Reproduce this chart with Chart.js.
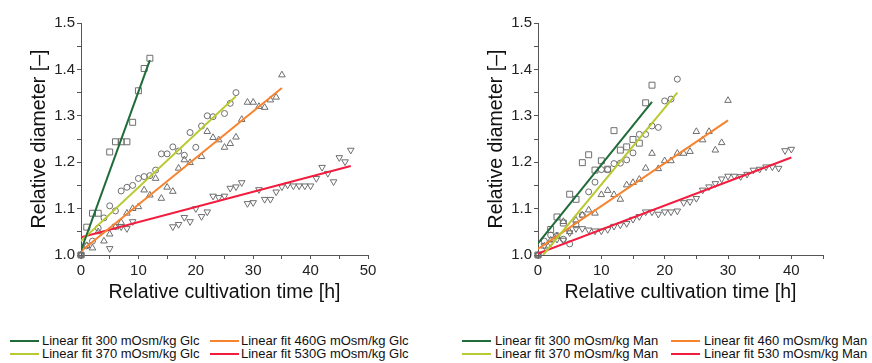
<!DOCTYPE html>
<html><head><meta charset="utf-8">
<script src="https://cdn.jsdelivr.net/npm/chart.js@4/dist/chart.umd.min.js"></script>
<style>
html,body{margin:0;padding:0;background:#fff;}
#wrap{position:relative;width:872px;height:363px;overflow:hidden;font-family:"Liberation Sans",Arial,sans-serif;background:#fff;}
canvas{position:absolute;top:0;}
.lt{position:absolute;font-size:13px;line-height:13px;color:#111;white-space:nowrap;}
.ll{position:absolute;height:2px;}
</style></head><body>
<div id="wrap">
<canvas id="c1" width="436" height="310" style="left:0"></canvas>
<canvas id="c2" width="436" height="310" style="left:436px"></canvas>
</div>
<script>
// ---------- Glucose (left panel) ----------
const glcT300 = [0,1,2,3,5,6,7,8,9,10,11,12];
const glcD300 = [1.0,1.06,1.09,1.09,1.222,1.244,1.244,1.244,1.286,1.354,1.402,1.424];
const glcT370 = [0,1,2,3,4,5,6,7,8,9,10,11,12,13,14,15,16,17,18,19,20,21,22,23,25,26,27];
const glcD370 = [1.0,1.02,1.03,1.058,1.08,1.106,1.095,1.138,1.146,1.15,1.165,1.169,1.171,1.183,1.218,1.218,1.233,1.224,1.215,1.264,1.232,1.278,1.30,1.298,1.305,1.327,1.35];
const glcT460 = [0,1,2,3,4,5,6,7,8,9,10,11,12,13,14,15,16,17,18,19,21,22,23,24,25,26,27,28,29,30,31,32,33,34,35];
const glcD460 = [1.0,1.02,1.015,1.05,1.03,1.045,1.06,1.07,1.09,1.10,1.104,1.14,1.129,1.165,1.122,1.146,1.137,1.187,1.205,1.199,1.212,1.266,1.253,1.248,1.232,1.24,1.254,1.292,1.329,1.329,1.32,1.318,1.334,1.34,1.388];
const glcT530 = [0,5,6,7,8,9,16,17,18,19,20,21,22,23,24,25,26,27,28,29,30,31,32,33,34,35,36,37,38,39,40,41,42,43,44,45,46,47];
const glcD530 = [1.0,1.014,1.062,1.061,1.057,1.072,1.061,1.066,1.081,1.072,1.10,1.083,1.093,1.127,1.124,1.127,1.144,1.147,1.156,1.111,1.113,1.141,1.12,1.12,1.136,1.147,1.151,1.149,1.149,1.149,1.149,1.165,1.189,1.176,1.158,1.21,1.201,1.226];
// linear fit end points
const glcFitT300 = [0,12],  glcFitD300 = [1.01,1.42];
const glcFitT370 = [0,27],  glcFitD370 = [1.03,1.342];
const glcFitT460 = [0,35],  glcFitD460 = [1.008,1.36];
const glcFitT530 = [0,47],  glcFitD530 = [1.038,1.192];
const glcLabels = ['Linear fit 300 mOsm/kg Glc','Linear fit 370 mOsm/kg Glc','Linear fit 460G mOsm/kg Glc','Linear fit 530G mOsm/kg Glc'];

// ---------- Mannitol (right panel) ----------
const manT300 = [0,2,3,4,5,6,7,8,9,10,11,12,13,14,15,16,17,18];
const manD300 = [1.0,1.055,1.082,1.069,1.131,1.12,1.199,1.216,1.183,1.203,1.185,1.268,1.226,1.233,1.249,1.241,1.328,1.366];
const manT370 = [0,1,2,3,4,5,6,7,8,9,10,11,12,13,14,15,16,17,18,19,20,21,22];
const manD370 = [1.0,1.03,1.043,1.042,1.034,1.024,1.065,1.086,1.136,1.157,1.184,1.184,1.197,1.198,1.205,1.22,1.26,1.26,1.278,1.275,1.332,1.336,1.379];
const manT460 = [0,1,2,3,4,5,6,7,8,9,10,11,12,13,14,15,16,17,18,19,20,21,22,23,24,25,26,27,28,29,30];
const manD460 = [1.0,1.019,1.032,1.04,1.072,1.05,1.075,1.086,1.097,1.09,1.13,1.139,1.13,1.12,1.151,1.156,1.163,1.187,1.219,1.186,1.203,1.203,1.219,1.219,1.223,1.266,1.248,1.266,1.226,1.242,1.333];
const manT530 = [0,1,2,3,4,5,6,7,8,9,10,11,12,13,14,15,16,17,18,19,20,21,22,23,24,25,26,27,28,29,30,31,32,33,34,35,36,37,38,39,40];
const manD530 = [1.0,1.02,1.025,1.034,1.032,1.048,1.057,1.057,1.054,1.052,1.052,1.055,1.062,1.065,1.068,1.077,1.083,1.093,1.093,1.088,1.093,1.093,1.095,1.113,1.115,1.122,1.14,1.147,1.154,1.164,1.17,1.17,1.169,1.174,1.183,1.185,1.19,1.19,1.187,1.225,1.228];
const manFitT300 = [0,18],   manFitD300 = [1.025,1.33];
const manFitT370 = [0.8,22], manFitD370 = [1.0,1.35];
const manFitT460 = [0,30],   manFitD460 = [1.013,1.29];
const manFitT530 = [0,40],   manFitD530 = [1.003,1.21];
const manLabels = ['Linear fit 300 mOsm/kg Man','Linear fit 370 mOsm/kg Man','Linear fit 460 mOsm/kg Man','Linear fit 530 mOsm/kg Man'];

// axis settings
const yTickValues = [1.0,1.1,1.2,1.3,1.4,1.5];
const xTickStep = 10;
const glcXMax = 50, manXMax = 45;

const FONT = '"Liberation Sans", Arial, sans-serif';
const fitColors = ['#1f6b3a','#b9c932','#f7832e','#f41c3e'];
const markerStyles = [
  {pointStyle:'rect', radius:4.2, rotation:0},
  {pointStyle:'circle', radius:3, rotation:0},
  {pointStyle:'triangle', radius:3.8, rotation:0},
  {pointStyle:'triangle', radius:3.8, rotation:180}
];
const markerColor = '#6e6e6e';

const zip = (a,b) => a.map((v,i)=>({x:v,y:b[i]}));

function buildDatasets(series, fits){
  const ds = [];
  fits.forEach((f,i)=>{
    ds.push({type:'line', data:zip(f[0],f[1]), borderColor:fitColors[i], borderWidth:2,
      pointRadius:0, fill:false, tension:0, order:0});
  });
  series.forEach((s,i)=>{
    const m = markerStyles[i];
    ds.push({type:'scatter', data:zip(s[0],s[1]), showLine:false,
      pointStyle:m.pointStyle, pointRadius:m.radius, pointRotation:m.rotation,
      pointBorderColor:markerColor, pointBackgroundColor:'rgba(0,0,0,0)', pointBorderWidth:1,
      clip:false, order:1});
  });
  return ds;
}

function isMajorY(v){ return yTickValues.some(t=>Math.abs(t-v)<1e-6); }

function makeOptions(xMax, leftPad, rightPad){
  return {
    responsive:false, animation:false, devicePixelRatio:1,
    layout:{padding:{left:leftPad,right:rightPad,top:23,bottom:0}},
    plugins:{legend:{display:false},tooltip:{enabled:false}},
    scales:{
      x:{type:'linear',min:0,max:xMax,
        afterFit(s){ s.height = 55; },
        border:{display:true,color:'#555',width:1},
        grid:{display:true,drawOnChartArea:false,drawTicks:true,tickLength:4,tickColor:'#555'},
        ticks:{stepSize:5,autoSkip:false,maxRotation:0,padding:3,color:'#222',
          font:{size:15,family:FONT},
          callback:(v)=> (Math.abs(v % xTickStep) < 1e-6 ? String(v) : '')},
        title:{display:true,text:'Relative cultivation time [h]',color:'#111',
          font:{size:19.5,family:FONT},padding:{top:0,bottom:6}}
      },
      y:{type:'linear',min:1.0,max:1.5,
        afterFit(s){ s.width = 81; },
        border:{display:true,color:'#555',width:1},
        grid:{display:true,drawOnChartArea:false,drawTicks:true,tickLength:4,tickColor:'#555'},
        ticks:{stepSize:0.05,autoSkip:false,padding:2,color:'#222',
          font:{size:15,family:FONT},
          callback:(v)=> (isMajorY(v) ? Number(v).toFixed(1) : '')},
        title:{display:true,text:'Relative diameter [–]',color:'#111',
          font:{size:19.5,family:FONT},padding:{top:28,bottom:0}}
      }
    }
  };
}

new Chart(document.getElementById('c1'), {
  data:{datasets:buildDatasets(
    [[glcT300,glcD300],[glcT370,glcD370],[glcT460,glcD460],[glcT530,glcD530]],
    [[glcFitT300,glcFitD300],[glcFitT370,glcFitD370],[glcFitT460,glcFitD460],[glcFitT530,glcFitD530]])},
  options:makeOptions(glcXMax, 0, 68)
});
new Chart(document.getElementById('c2'), {
  data:{datasets:buildDatasets(
    [[manT300,manD300],[manT370,manD370],[manT460,manD460],[manT530,manD530]],
    [[manFitT300,manFitD300],[manFitT370,manFitD370],[manFitT460,manFitD460],[manFitT530,manFitD530]])},
  options:makeOptions(manXMax, 21, 49)
});

// HTML legends (2 x 2, column-major)
function buildLegend(labels, lineX, textX, rowY){
  const wrap = document.getElementById('wrap');
  labels.forEach((lab,i)=>{
    const col = Math.floor(i/2), row = i%2;
    const ln = document.createElement('div');
    ln.className='ll';
    ln.style.left = lineX[col]+'px'; ln.style.width='29px';
    ln.style.top = (rowY[row]-1)+'px'; ln.style.background = fitColors[i];
    wrap.appendChild(ln);
    const tx = document.createElement('div');
    tx.className='lt'; tx.textContent = lab;
    tx.style.left = textX[col]+'px'; tx.style.top = (rowY[row]-7)+'px';
    wrap.appendChild(tx);
  });
}
buildLegend(glcLabels, [10,210], [42,241], [341,354]);
buildLegend(manLabels, [462,671], [495,704], [341,354]);
</script>
</body></html>
